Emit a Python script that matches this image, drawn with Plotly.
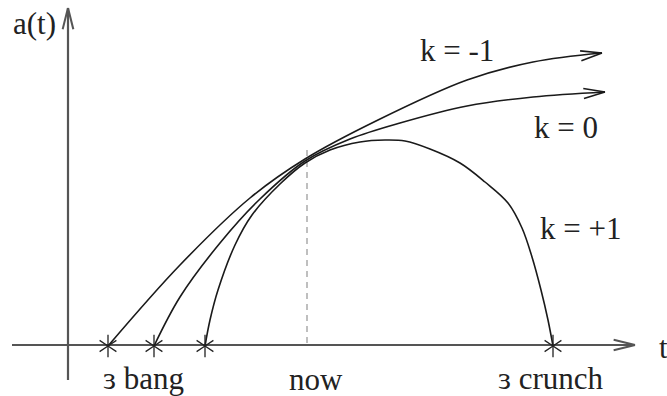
import numpy as np
import plotly.graph_objects as go

# ---- data (picture coordinates: x right, y down) ----
k_minus1_x = [108, 180, 250, 305, 378, 467, 533, 602]
k_minus1_y = [346, 265, 198, 159, 120, 80, 62, 53]

k_zero_x = [154, 180, 220, 260, 305, 350, 400, 467, 533, 605]
k_zero_y = [346, 297, 243, 199, 161, 139, 123, 106, 97, 92]

k_plus1_x = [205, 210, 218, 235, 252, 280, 305, 330, 360, 385, 405, 430, 460, 485, 508, 522, 532, 541, 548, 553]
k_plus1_y = [346, 320, 290, 245, 215, 184, 163, 150, 142, 140, 141, 149, 163, 182, 203, 228, 257, 290, 320, 346]

bang_x = [108, 154, 205]
crunch_x = [553]
event_y = 346

now_x = 307
now_top = 150

t_axis_x = [12, 635]
t_axis_y = [345, 345]
a_axis_x = [68, 68]
a_axis_y = [380, 8]

labels = ["a(t)", "t", "k = -1", "k = 0", "k = +1", "now", "ɜ bang", "ɜ crunch"]
label_x = [11, 657, 418, 532, 538, 287, 101, 496]
label_y = [23, 347, 50, 127, 228, 379, 378, 378]

FONT = "Liberation Serif"
AXC = "#555555"
LC = "#1a1a1a"

fig = go.Figure()


def chevron(tx, ty, px, py, length=20, half_angle=16):
    d = np.array([tx - px, ty - py], dtype=float)
    d /= np.linalg.norm(d)
    xs, ys = [], []
    for s in (1, -1):
        a = np.deg2rad(half_angle * s)
        rot = np.array([[np.cos(a), -np.sin(a)], [np.sin(a), np.cos(a)]])
        b = rot @ (-d) * length
        xs += [tx + b[0], tx, None]
        ys += [ty + b[1], ty, None]
    return xs, ys


# axes
for xs, ys in ((t_axis_x, t_axis_y), (a_axis_x, a_axis_y)):
    fig.add_trace(go.Scatter(x=xs, y=ys, mode="lines",
                             line=dict(color=AXC, width=2.2), hoverinfo="skip"))
    cx, cy = chevron(xs[-1], ys[-1], xs[0], ys[0], length=22, half_angle=14)
    fig.add_trace(go.Scatter(x=cx, y=cy, mode="lines",
                             line=dict(color=AXC, width=2), hoverinfo="skip"))

# now dashed line
fig.add_trace(go.Scatter(x=[now_x, now_x], y=[now_top, event_y], mode="lines",
                         line=dict(color="#aaaaaa", width=1.5, dash="6px,5px"),
                         hoverinfo="skip"))

# curves
for xs, ys, arrow in ((k_minus1_x, k_minus1_y, True),
                      (k_zero_x, k_zero_y, True),
                      (k_plus1_x, k_plus1_y, False)):
    fig.add_trace(go.Scatter(x=xs, y=ys, mode="lines",
                             line=dict(color=LC, width=1.6, shape="spline", smoothing=1.0),
                             hoverinfo="skip"))
    if arrow:
        cx, cy = chevron(xs[-1], ys[-1], xs[-2], ys[-2], length=22, half_angle=13)
        fig.add_trace(go.Scatter(x=cx, y=cy, mode="lines",
                                 line=dict(color=LC, width=1.6), hoverinfo="skip"))

# asterisks
ev_x = bang_x + crunch_x
ev_y = [event_y] * len(ev_x)
for sym in ("y-up-open", "y-down-open"):
    fig.add_trace(go.Scatter(x=ev_x, y=ev_y, mode="markers",
                             marker=dict(symbol=sym, size=14, color="#222222",
                                         line=dict(color="#222222", width=1.3)),
                             hoverinfo="skip"))

# labels
for txt, x, y in zip(labels, label_x, label_y):
    fig.add_annotation(x=x, y=y, text=txt, showarrow=False, xanchor="left",
                       yanchor="middle", font=dict(family=FONT, size=31, color="#222222"))

fig.update_layout(
    width=667, height=396, margin=dict(l=0, r=0, t=0, b=0),
    paper_bgcolor="white", plot_bgcolor="white", showlegend=False,
    xaxis=dict(range=[0, 667], visible=False, fixedrange=True),
    yaxis=dict(range=[396, 0], visible=False, fixedrange=True),
)

fig.write_html("out.html", config={"displayModeBar": False},
               post_script="document.body.style.margin='0';document.body.style.overflow='hidden';")
